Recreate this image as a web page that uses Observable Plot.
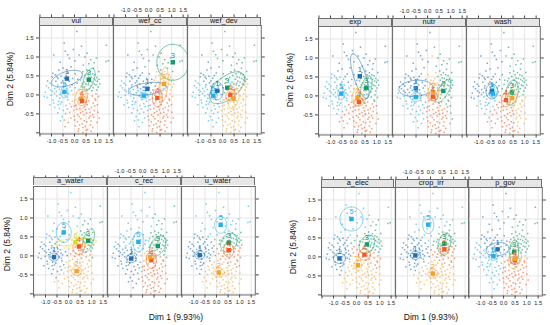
<!DOCTYPE html>
<html><head><meta charset="utf-8">
<script src="https://cdn.jsdelivr.net/npm/d3@7"></script>
<script src="https://cdn.jsdelivr.net/npm/@observablehq/plot@0.6"></script>
<style>
body{margin:0;background:#fff;font-family:"Liberation Sans",Arial,sans-serif;}
#root{position:relative;width:550px;height:325px;overflow:hidden;background:#fff;}
#root svg{position:absolute;overflow:visible;}
.strip{position:absolute;background:#e6e6e6;border:1px solid #6e6e6e;border-bottom:0;box-sizing:border-box;font-size:7.4px;text-align:center;line-height:6.5px;color:#111;overflow:visible;z-index:2;}
.title{position:absolute;white-space:nowrap;color:#111;font-size:8.5px;}
</style></head><body><div id="root"></div>
<script>
// ---------- data ----------
const panelNames = ["vul","wef_cc","wef_dev","exp","nutr","wash","a_water","c_rec","u_water","a_elec","crop_irr","p_gov"];
const xTicks = [-1.5,-1,-0.5,0,0.5,1,1.5];
const yTicks = [-1,-0.5,0,0.5,1,1.5];
const xLabelTicks = [-1,-0.5,0,0.5,1,1.5];
const yLabelTicks = [-0.5,0,0.5,1,1.5];
const xTitle = "Dim 1 (9.93%)";
const yTitle = "Dim 2 (5.84%)";
const clusterIds = [1,2,3,4,5,6];
const clusterColors = ["#1f6fb2","#f7a12a","#169a6a","#f25b1e","#27aee6","#e0dc1c"];

// individuals (same cloud in every panel): [Dim 1, Dim 2]
const individuals = [
 [0.10,1.67],[1.38,1.31],[1.36,0.88],[1.46,0.90],[-0.45,1.37],[0.30,1.28],[0.55,1.10],[-0.90,1.05],[-0.30,1.06],[-0.22,0.96],[0.70,0.93],[0.20,1.05],[0.62,0.82],[0.95,0.97],[-0.62,0.86],[0.02,0.90],[0.38,0.78],[-0.15,0.74],[0.82,0.70],[1.05,0.62],[-0.40,1.15],[0.45,1.00],[-0.05,1.20],[0.85,0.85],
 [-1.27,0.07],[-1.13,0.19],[-1.19,-0.07],[-1.06,0.31],[-1.01,-0.01],[-0.97,0.47],[-1.04,0.13],[-0.93,-0.14],[-0.99,0.26],[-0.87,0.04],[-0.91,-0.21],[-0.81,0.36],[-0.86,0.17],[-0.77,-0.03],[-0.83,0.53],[-0.72,0.27],[-0.79,0.09],[-0.69,-0.17],[-0.74,0.21],[-0.63,0.01],[-0.71,0.43],[-0.61,-0.24],[-0.66,0.14],[-0.57,0.32],[-0.64,-0.09],[-0.53,0.06],[-0.59,0.49],[-0.49,0.23],[-0.56,-0.19],[-0.45,0.11],[-0.51,0.37],[-0.41,-0.03],[-0.47,0.19],[-0.37,-0.28],[-0.43,0.44],[-0.33,0.07],[-0.39,0.29],[-0.29,-0.13],[-0.35,0.16],[-0.27,0.58],[-0.31,-0.06],[-0.23,0.36],[-0.26,0.03],[-0.19,0.21],[-0.21,-0.23],[-1.31,-0.04],[-1.17,0.37],[-1.07,-0.26],[-0.94,0.57],[-0.68,0.66],[-0.50,0.71],[-0.36,0.51],[-1.22,0.24],[-0.96,0.09],[-0.75,0.47],
 [-0.86,-0.33],[-0.73,-0.47],[-0.66,-0.36],[-0.54,-0.57],[-0.48,-0.41],[-0.44,-0.66],[-0.39,-0.49],[-0.31,-0.37],[-0.27,-0.73],[-0.21,-0.46],[-0.61,-0.68],[-0.17,-0.61],[-0.71,-0.26],[-0.41,-0.84],[-0.14,-0.31],
 [-0.13,0.11],[-0.09,-0.17],[-0.11,0.27],[-0.04,-0.41],[-0.06,0.01],[0.01,-0.66],[0.03,0.19],[0.07,-0.27],[0.04,-0.81],[0.09,0.06],[0.13,-0.52],[0.11,0.31],[0.17,-0.09],[0.12,-0.71],[0.19,0.13],[0.23,-0.36],[0.18,-0.89],[0.27,-0.01],[0.21,-0.57],[0.29,0.23],[0.24,-0.21],[0.33,-0.76],[0.31,0.07],[0.36,-0.44],[0.28,-0.63],[0.39,-0.09],[0.34,0.29],[0.43,-0.31],[0.37,-0.86],[0.46,0.03],[0.41,-0.53],[0.49,-0.19],[0.44,0.14],[0.53,-0.71],[0.47,-0.39],[0.56,-0.06],[0.51,-0.93],[0.59,0.26],[0.55,-0.26],[0.62,-0.61],[0.58,0.04],[0.66,-0.46],[0.61,-0.16],[0.69,-0.79],[0.64,0.17],[0.73,-0.33],[0.67,-0.56],[0.77,-0.03],[0.71,-0.69],[0.81,-0.21],[0.75,0.11],[0.85,-0.41],[0.79,-0.86],[0.89,-0.11],[0.83,-0.59],[0.93,0.03],[0.87,-0.29],[0.97,-0.73],[0.91,-0.14],[1.01,-0.46],[0.96,0.13],[0.99,-0.26],[1.07,-0.61],[1.04,-0.04],[0.16,-0.96],[0.36,-0.99],[0.26,-0.47],[0.06,-0.13],[-0.02,-0.56],[0.57,-0.91],[0.72,-0.96],[0.47,-0.83],[0.14,0.41],[-0.08,0.43],[0.03,0.56],[0.08,-0.38],[0.32,-0.16],[0.52,-0.48],[0.42,-0.68],[0.22,-0.79],[0.63,-0.37],[0.78,-0.52],[-0.01,-0.29],
 [0.31,0.46],[0.36,0.61],[0.41,0.34],[0.44,0.51],[0.49,0.29],[0.53,0.66],[0.56,0.41],[0.59,0.56],[0.61,0.31],[0.63,0.47],[0.66,0.37],[0.69,0.61],[0.71,0.24],[0.73,0.46],[0.76,0.34],[0.79,0.56],[0.81,0.19],[0.83,0.43],[0.86,0.29],[0.89,0.53],[0.91,0.39],[0.93,0.27],[0.96,0.46],[0.99,0.36],[1.03,0.21],[1.06,0.41],[1.09,0.29],[0.43,0.21],[0.54,0.14],[0.26,0.39]
];

// cluster centres and confidence ellipses (semi-axes in px, angle in degrees)
const clusterPanel = ["vul","vul","vul","vul","vul","wef_cc","wef_cc","wef_cc","wef_cc","wef_cc","wef_dev","wef_dev","wef_dev","wef_dev","wef_dev",
 "exp","exp","exp","exp","exp","nutr","nutr","nutr","nutr","nutr","wash","wash","wash","wash","wash",
 "a_water","a_water","a_water","a_water","a_water","a_water","c_rec","c_rec","c_rec","c_rec","c_rec","u_water","u_water","u_water","u_water","u_water",
 "a_elec","a_elec","a_elec","a_elec","a_elec","crop_irr","crop_irr","crop_irr","crop_irr","crop_irr","p_gov","p_gov","p_gov","p_gov","p_gov"];
const clusterId = [1,5,3,2,4, 3,2,1,5,4, 1,5,3,4,2,
 1,3,5,2,4, 1,5,3,2,4, 1,5,3,4,2,
 5,1,3,4,6,2, 5,1,3,4,2, 5,1,3,4,2,
 5,1,3,4,2, 5,1,3,4,2, 1,5,3,4,2];
const clusterX = [-0.33,-0.44,0.62,0.28,0.33, 1.05,0.67,-0.05,-0.20,0.38, -0.23,-0.40,0.20,0.34,0.48,
 0.27,0.55,-0.53,0.17,0.23, -0.51,-0.51,0.68,0.25,0.23, -0.42,-0.38,0.45,0.19,0.45,
 -0.21,-0.63,0.85,0.45,0.30,0.35, -0.18,-0.49,0.66,0.38,0.33, 0.18,-0.73,0.53,0.53,0.10,
 -0.22,-0.74,0.45,0.34,0.06, -0.10,-0.66,0.60,0.60,0.10, -0.26,-0.44,0.46,0.49,0.49];
const clusterY = [0.43,0.08,0.40,-0.10,-0.16, 0.86,0.29,0.16,-0.02,-0.08, 0.11,-0.02,0.19,0.00,-0.10,
 0.52,0.21,0.06,-0.05,-0.16, 0.20,-0.03,0.13,0.10,-0.02, 0.12,0.06,0.09,-0.11,-0.06,
 0.62,-0.03,0.40,0.25,0.36,-0.40, 0.37,-0.07,0.26,-0.11,-0.03, 0.82,0.02,0.35,0.15,-0.44,
 1.00,-0.04,0.33,0.06,-0.22, 0.85,0.04,0.35,0.20,-0.44, 0.20,0.02,0.13,-0.09,-0.05];
const ellA = [16,6,12,11.5,5, 18,17,19,4,9, 9,4,21,6,10,
 23.5,12.5,6,8.5,5, 17,5.3,13,9,5, 7.5,4,12.5,6.5,8,
 10,5,12.5,8,21,5, 10,5,11,8.5,4, 8.5,5,10,7,5.5,
 12,6,10,6,5, 9,5,11,6,5, 11.5,4.5,12,5,10];
const ellB = [7,3.5,5,6,4, 16,4,6,3.5,5, 6,3.5,11,4,5,
 6,5,3.5,5.5,4, 8,4.5,5,5,4, 6,3.5,6,4.5,5,
 7.5,4,5,6,3.5,4.5, 5.5,4,7,5,3.5, 6,4,7.5,5,4.5,
 11.5,5,7,5.5,4, 5.5,4,6,4.5,4.5, 6.5,4,4.5,4,6];
const ellAngle = [18,85,70,80,60, 90,85,8,0,90, 90,0,40,60,75,
 108,75,90,90,0, 5,0,60,90,0, 90,0,80,90,80,
 90,0,70,80,3,0, 90,0,60,90,0, 90,0,60,90,0,
 90,0,60,0,90, 90,0,75,90,0, 10,0,88,0,70];

// ---------- layout ----------
const PW = 73.8, PH = 108.5, STRIP = 8.5;
const xDomain = [-1.52, 1.68], yDomain = [-1.03, 1.83];
const ML = 30, MR = 8, MT = 26, MB = 16;
const groups = [
  {start:0, left:39.3, top:25.0, ty:[9.5,79], tx:null},
  {start:3, left:318.3, top:26.3, ty:[290,80], tx:null},
  {start:6, left:33.3, top:185.6, ty:[6.7,244], tx:[176,316.7]},
  {start:9, left:320.7, top:187.3, ty:[293.3,247], tx:[431,316.7]}
];
const kx = PW / (xDomain[1]-xDomain[0]);
const ky = PH / (yDomain[1]-yDomain[0]);
const fmt = d => d.toFixed(1);
const root = document.getElementById("root");

const clusters = clusterPanel.map((p,i)=>({panel:p, c:clusterId[i], x:clusterX[i], y:clusterY[i], a:ellA[i], b:ellB[i], ang:ellAngle[i]}));

function panel(name, col, left, top) {
  const rows = clusters.filter(d => d.panel === name);
  const pts = individuals.map(([x, y]) => {
    let best = rows[0], bd = Infinity;
    for (const r of rows) {
      const dd = ((x-r.x)*kx)**2 + ((y-r.y)*ky)**2;
      if (dd < bd) { bd = dd; best = r; }
    }
    return {x, y, c: best.c};
  });
  const ell = rows.flatMap(r => d3.range(0, 73).map(k => {
    const t = k/72*2*Math.PI, th = r.ang*Math.PI/180;
    const u = r.a*Math.cos(t), v = r.b*Math.sin(t);
    return {id:r.c, c:r.c, x: r.x + (u*Math.cos(th) - v*Math.sin(th))/kx, y: r.y + (u*Math.sin(th) + v*Math.cos(th))/ky};
  }));
  const marks = [
    Plot.gridX(xTicks, {stroke:"#e6e6e6", strokeOpacity:1}),
    Plot.gridY(yTicks, {stroke:"#e6e6e6", strokeOpacity:1}),
    Plot.dot(pts, {x:"x", y:"y", fill:"c", symbol:"square", r:0.85, fillOpacity:0.6, clip:true}),
    Plot.line(ell, {x:"x", y:"y", z:"id", stroke:"c", strokeWidth:1, strokeOpacity:0.55, clip:true}),
    Plot.dot(rows, {x:"x", y:"y", fill:"c", symbol:"square", r:2.5}),
    Plot.text(rows, {x:"x", y:"y", text:d=>String(d.c), fill:"c", dy:-7, fontSize:7.5}),
    Plot.frame({stroke:"#6e6e6e"}),
    Plot.axisX(xTicks, {anchor:"bottom", tickSize:3, tickPadding:2, label:null, stroke:"#444",
      tickFormat: d => (col !== 1 && xLabelTicks.includes(d)) ? fmt(d) : ""}),
    Plot.axisX(xTicks, {anchor:"top", dy:-STRIP, tickSize:3, tickPadding:2, label:null, stroke:"#444",
      tickFormat: d => (col === 1 && xLabelTicks.includes(d)) ? fmt(d) : ""})
  ];
  if (col === 0) marks.push(Plot.axisY(yTicks, {anchor:"left", tickSize:3, tickPadding:3, label:null, stroke:"#444",
      tickFormat: d => yLabelTicks.includes(d) ? fmt(d) : ""}));
  if (col === 2) marks.push(Plot.axisY(yTicks, {anchor:"right", tickSize:3, label:null, stroke:"#444", tickFormat: () => ""}));
  const svg = Plot.plot({
    width: ML+PW+MR, height: MT+PH+MB,
    marginLeft: ML, marginRight: MR, marginTop: MT, marginBottom: MB,
    x: {domain: xDomain},
    y: {domain: yDomain, axis: (col===1) ? null : undefined},
    color: {type:"ordinal", domain: clusterIds, range: clusterColors},
    style: {fontFamily:'"Liberation Sans",Arial,sans-serif', fontSize:"5.6px", color:"#222", background:"transparent", overflow:"visible"},
    marks
  });
  svg.style.left = (left - ML) + "px";
  svg.style.top = (top - MT) + "px";
  root.appendChild(svg);
  const s = document.createElement("div");
  s.className = "strip";
  s.style.left = left + "px"; s.style.top = (top - STRIP) + "px";
  s.style.width = PW + "px"; s.style.height = (STRIP - 0.5) + "px";
  s.textContent = name;
  root.appendChild(s);
}

for (const g of groups) {
  for (let c = 0; c < 3; c++) panel(panelNames[g.start + c], c, g.left + c*PW, g.top);
  const t = document.createElement("div");
  t.className = "title"; t.textContent = yTitle;
  t.style.left = g.ty[0] + "px"; t.style.top = g.ty[1] + "px";
  t.style.transform = "translate(-50%,-50%) rotate(-90deg)";
  root.appendChild(t);
  if (g.tx) {
    const u = document.createElement("div");
    u.className = "title"; u.textContent = xTitle;
    u.style.left = g.tx[0] + "px"; u.style.top = g.tx[1] + "px";
    u.style.transform = "translate(-50%,-50%)";
    root.appendChild(u);
  }
}
</script></body></html>
